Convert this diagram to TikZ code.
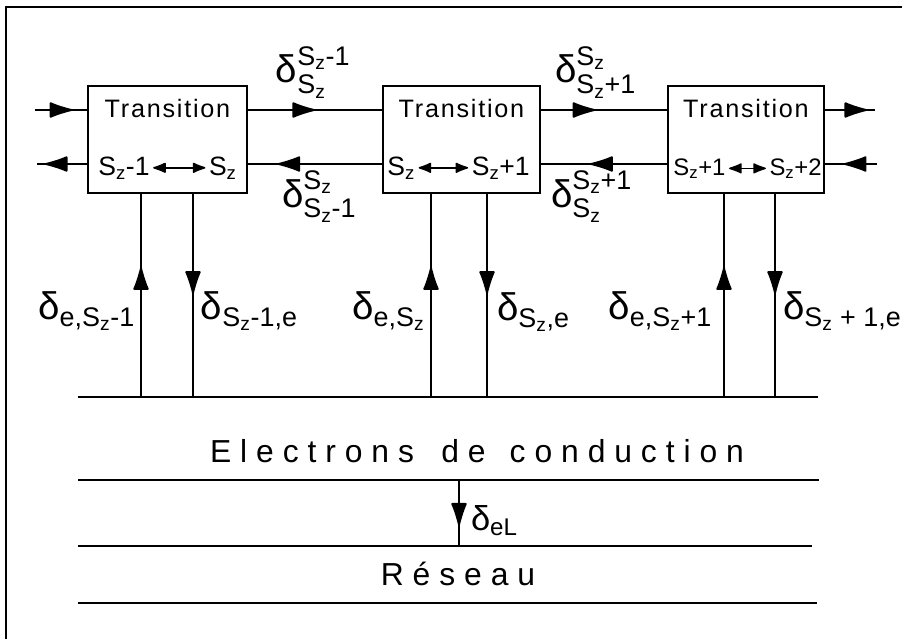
\documentclass[tikz,border=0pt]{standalone}
\usepackage{amsmath}
\usepackage{fontspec}
\setmainfont{Liberation Sans}
\newfontfamily\trfont[LetterSpace=7]{Liberation Sans}
\newfontfamily\bandfont[LetterSpace=28]{Liberation Sans}
\usetikzlibrary{arrows.meta,decorations.markings}

\newcommand{\Sz}{\text{S}_{\text{z}}}
\newcommand{\dlt}{\text{δ}}

\begin{document}
\begin{tikzpicture}[
    x=0.0265cm, y=-0.0265cm,
    line width=1.5pt,
    trbox/.style={draw, line width=2pt, minimum height=2.84cm, inner sep=0pt},
    trname/.style={anchor=base, inner sep=0pt, font=\trfont\fontsize{19}{21}\selectfont},
    state/.style={inner sep=1pt, font=\fontsize{20}{22}\selectfont},
    rate/.style={inner sep=0pt, font=\fontsize{29}{31}\selectfont},
    band/.style={anchor=base, inner sep=0pt, font=\bandfont\fontsize{24}{27}\selectfont},
    flow/.style={postaction={decorate, decoration={markings,
                 mark=at position #1 with {\arrow{Latex[length=7mm,width=4.4mm,round]}}}}},
    swap/.style={{Latex[length=4mm,width=3mm,round]}-{Latex[length=4mm,width=3mm,round]},
                 line width=1.2pt, shorten <=1pt, shorten >=1pt},
  ]
  \useasboundingbox (0,0) rectangle (902,639);

  % frame
  \draw[line width=2pt] (6,639) -- (6,7) -- (902,7);

  % --- transitions ----------------------------------------------------------
  \node[trbox, minimum width=4.21cm] (tr1) at (167.5,139.5) {};
  \node[trbox, minimum width=4.16cm] (tr2) at (461.5,139.5) {};
  \node[trbox, minimum width=4.13cm] (tr3) at (746,139.5) {};

  \coordinate (nameline) at (0,117);
  \foreach \b in {1,2,3}
    \node[trname] (nm\b) at (tr\b |- nameline) {Transition};

  \node[state, anchor=base west] (sa1) at (96,175)  {$\Sz\text{-1}$};
  \node[state, anchor=base east] (sb1) at (239,175) {$\Sz$};
  \node[state, anchor=base west] (sa2) at (385,175) {$\Sz$};
  \node[state, anchor=base east] (sb2) at (532,175) {$\Sz\text{+1}$};
  \node[state, anchor=base west, font=\fontsize{18}{20}\selectfont] (sa3) at (671,175) {$\Sz\text{+1}$};
  \node[state, anchor=base east, font=\fontsize{18}{20}\selectfont] (sb3) at (824,175) {$\Sz\text{+2}$};
  \foreach \b in {1,2,3}
    \draw[swap] (sa\b) -- (sb\b);

  % --- chain of transitions -------------------------------------------------
  \coordinate (hi) at (0,110);
  \coordinate (lo) at (0,164);
  \coordinate (inL)  at (35,110);
  \coordinate (outL) at (37,164);
  \coordinate (outR) at (875,110);
  \coordinate (inR)  at (877,164);

  \draw[flow=0.72] (inL) -- (tr1.west |- hi);
  \draw[flow=0.84] (tr1.west |- lo) -- (outL);
  \draw[flow=0.5]  (tr1.east |- hi) -- (tr2.west |- hi);
  \draw[flow=0.78] (tr2.west |- lo) -- (tr1.east |- lo);
  \draw[flow=0.43] (tr2.east |- hi) -- (tr3.west |- hi);
  \draw[flow=0.61] (tr3.west |- lo) -- (tr2.east |- lo);
  \draw[flow=0.84] (tr3.east |- hi) -- (outR);
  \draw[flow=0.64] (inR) -- (tr3.east |- lo);

  \node[rate, anchor=base west] (rtop1) at (275,83)  {$\dlt^{\Sz\text{-1}}_{\Sz}$};
  \node[rate, anchor=base west] (rbot1) at (281,207) {$\dlt^{\Sz}_{\Sz\text{-1}}$};
  \node[rate, anchor=base west] (rtop2) at (554,83)  {$\dlt^{\Sz}_{\Sz\text{+1}}$};
  \node[rate, anchor=base west] (rbot2) at (550,207) {$\dlt^{\Sz\text{+1}}_{\Sz}$};

  % --- exchange with the conduction electrons -------------------------------
  \coordinate (busL) at (78,397);
  \coordinate (busR) at (818,397);
  \draw (busL) -- (busR);

  \foreach \b/\u/\d in {1/141/193, 2/431/487, 3/724/775} {
    \coordinate (up\b) at (\u,397);
    \coordinate (dn\b) at (\d,397);
    \draw[flow=0.64] (up\b) -- (up\b |- tr\b.south);
    \draw[flow=0.49] (dn\b |- tr\b.south) -- (dn\b);
  }

  \node[rate, anchor=base east] (rin1)  at (136,319) {$\dlt_{\text{e,}\Sz\text{-1}}$};
  \node[rate, anchor=base west] (rout1) at (200,319) {$\dlt_{\Sz\text{-1,e}}$};
  \node[rate, anchor=base east] (rin2)  at (426,319) {$\dlt_{\text{e,}\Sz}$};
  \node[rate, anchor=base west] (rout2) at (496,320) {$\dlt_{\Sz\text{,e}}$};
  \node[rate, anchor=base east] (rin3)  at (713,319) {$\dlt_{\text{e,}\Sz\text{+1}}$};
  \node[rate, anchor=base west] (rout3) at (782,319) {$\dlt_{\Sz\text{ + 1,e}}$};

  % --- electrons / lattice --------------------------------------------------
  \node[band] (elec) at (477,462) {Electrons\hspace{0.3em} de\hspace{0.2em} conduction};

  \coordinate (eL) at (78,480);  \coordinate (eR) at (819,480);
  \coordinate (lL) at (78,546);  \coordinate (lR) at (812,546);
  \coordinate (bL) at (78,603);  \coordinate (bR) at (817,603);
  \draw (eL) -- (eR);
  \draw (lL) -- (lR);
  \draw (bL) -- (bR);

  \coordinate (eLtop) at (459,480);
  \coordinate (eLbot) at (459,546);
  \draw[flow=0.69] (eLtop) -- (eLbot);
  \node[rate, anchor=base west, font=\fontsize{26}{28}\selectfont] (reL) at (470,530) {$\dlt_{\text{eL}}$};

  \node[band] (lattice) at (458,585) {Réseau};

\end{tikzpicture}
\end{document}
